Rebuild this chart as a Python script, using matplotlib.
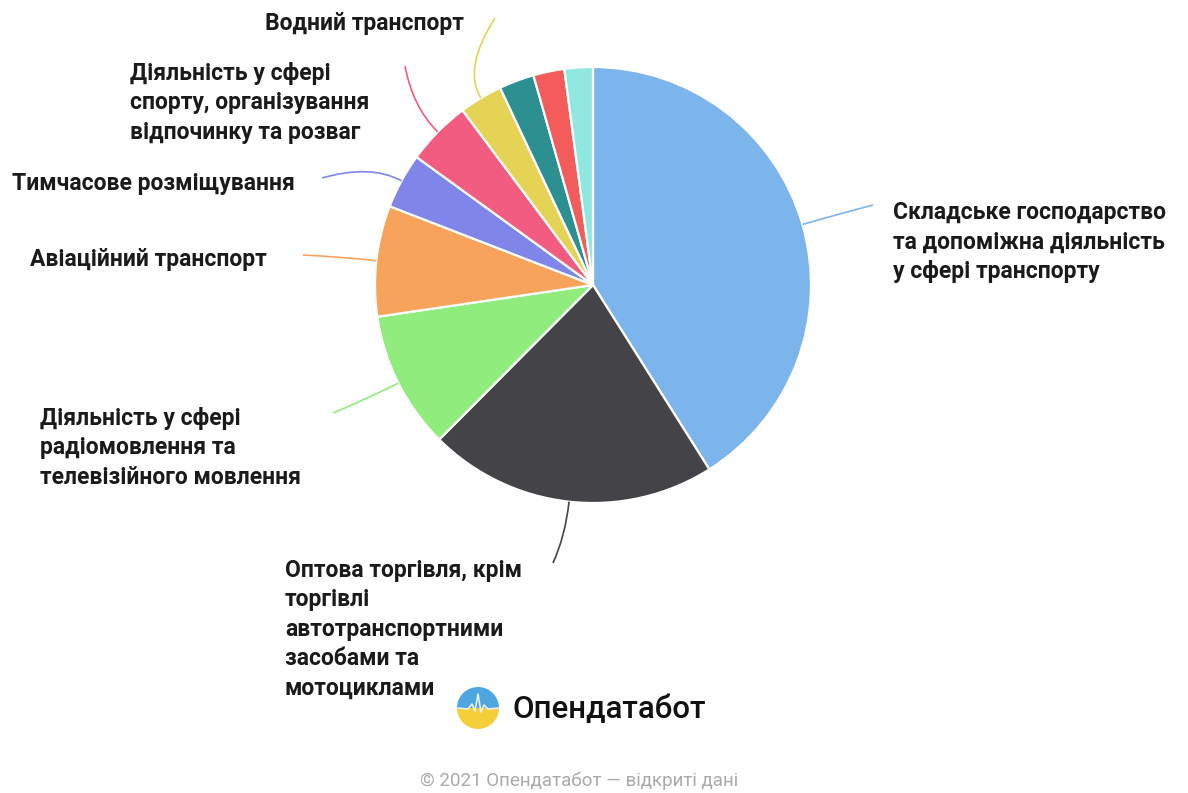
import numpy as np
import matplotlib.pyplot as plt
from matplotlib.path import Path
from matplotlib.patches import PathPatch, Wedge

plt.rcParams["font.family"] = ["Roboto", "DejaVu Sans"]

# Data (shares, %)
categories = [
    "Складське господарство\nта допоміжна діяльність\nу сфері транспорту",
    "Оптова торгівля, крім\nторгівлі\nавтотранспортними\nзасобами та\nмотоциклами",
    "Діяльність у сфері\nрадіомовлення та\nтелевізійного мовлення",
    "Авіаційний транспорт",
    "Тимчасове розміщування",
    "Діяльність у сфері\nспорту, організування\nвідпочинку та розваг",
    "Водний транспорт",
    "",
    "",
    "",
]
shares = [41.0, 21.4, 10.2, 8.2, 4.1, 4.8, 3.2, 2.6, 2.3, 2.1]
colors = ["#7cb5ec", "#434348", "#90ed7d", "#f7a35c", "#8085e9",
          "#f15c80", "#e4d354", "#2b908f", "#f45b5b", "#91e8e1"]

W, H = 1188, 793
CX, CY, R = 593, 285, 218

# label placement: (text x, text top y, leader end x, leader end y) in pixels
label_pos = [
    (893, 201, 873, 205),
    (285, 559, 553, 563),
    (40, 407, 333, 413),
    (30, 248, 303, 255),
    (12, 172, 322, 178),
    (130, 62, 405, 66),
    (265, 12, 495, 18),
]


def fy(y):
    return H - y


fig = plt.figure(figsize=(W / 100, H / 100), dpi=100)
ax = fig.add_axes([0, 0, 1, 1])
wedges, _ = ax.pie(shares, colors=colors, startangle=90, counterclock=False,
                   radius=R, center=(CX, fy(CY)),
                   wedgeprops=dict(edgecolor="white", linewidth=1.6))
ax.set_xlim(0, W)
ax.set_ylim(0, H)
ax.set_aspect("equal")
ax.axis("off")

for i, (lab, pos) in enumerate(zip(categories, label_pos)):
    if not lab:
        continue
    w = wedges[i]
    mid = np.deg2rad((w.theta1 + w.theta2) / 2)
    sx = CX + R * np.cos(mid)
    sy = fy(CY) + R * np.sin(mid)
    cx = CX + (R + 35) * np.cos(mid)
    cy = fy(CY) + (R + 35) * np.sin(mid)
    tx, ty, ex, ey = pos
    path = Path([(sx, sy), (cx, cy), (ex, fy(ey))],
                [Path.MOVETO, Path.CURVE3, Path.CURVE3])
    ax.add_patch(PathPatch(path, fill=False, edgecolor=colors[i], lw=1.2))
    ax.text(tx, fy(ty), lab, ha="left", va="top", fontsize=16.5,
            fontweight="bold", color="#1a1a1a", linespacing=1.36)

# logo
lx, ly, lr = 478, 708, 21
ax.add_patch(Wedge((lx, fy(ly)), lr, 0, 180, facecolor="#4da6e0", edgecolor="none"))
ax.add_patch(Wedge((lx, fy(ly)), lr, 180, 360, facecolor="#f4cf3a", edgecolor="none"))
wave_x = [lx - 21, lx - 10, lx - 6, lx - 3, lx, lx + 3, lx + 6, lx + 10, lx + 21]
wave_y = [ly, ly + 1, ly - 4, ly + 3, ly - 14, ly + 4, ly - 3, ly + 1, ly]
ax.plot(wave_x, [fy(v) for v in wave_y], color="#e8eef2", lw=1.2)
ax.text(512, fy(709), "Опендатабот", ha="left", va="center", fontsize=22.5,
        fontweight="medium", color="#111111")

ax.text(579, fy(781), "© 2021 Опендатабот — відкриті дані", ha="center",
        va="center", fontsize=13.5, color="#aaaaaa")

fig.savefig("out.png", dpi=100, facecolor="white")
